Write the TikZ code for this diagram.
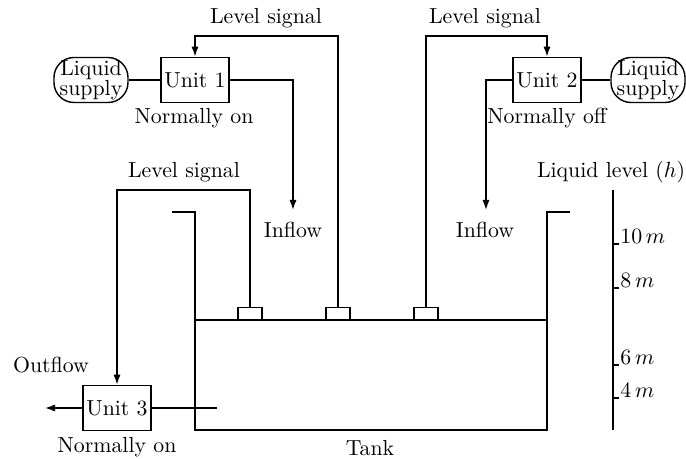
\documentclass[tikz,border=0pt]{standalone}
\usepackage{tikz}
\usetikzlibrary{arrows.meta,positioning,calc}
\usepackage{amsmath}
\tikzset{
  % Control unit box
  ubox/.style={rectangle,draw,line width=0.8pt,
    minimum width=34pt,minimum height=22.5pt,inner sep=1pt},
  % Liquid supply (rounded ends)
  supbox/.style={rectangle,rounded corners=10pt,draw,line width=0.7pt,
    minimum width=37pt,minimum height=22.5pt,inner sep=0.3pt,align=center},
  % Level sensor on the liquid surface
  sensbox/.style={rectangle,draw,line width=0.7pt,
    minimum width=12pt,minimum height=6pt,inner sep=0pt,anchor=south},
  % Lines and arrows
  wire/.style={line width=0.8pt},
  arr/.style={-{Latex[length=5pt,width=3.6pt]},line width=0.8pt},
  lbl/.style={inner sep=1pt},
}
\begin{document}
\begin{tikzpicture}[x=0.5pt,y=-0.5pt,font=\fontsize{10.9}{12}\selectfont]
  \useasboundingbox (0,0) rectangle (686,459);

  % Units and supplies
  \node[ubox] (unitA) at (195,80) {Unit 1};
  \node[ubox] (unitB) at (547,80) {Unit 2};
  \node[ubox] (unitC) at (117,408) {Unit 3};
  \node[supbox] (supA) at (91,80) {Liquid\\[-2pt]supply};
  \node[supbox] (supB) at (648,80) {Liquid\\[-2pt]supply};

  % Tank
  \draw[wire] (172,212) -- (195,212) -- (195,430) -- (547,430)
    -- (547,212) -- (570,212);
  \draw[wire] (195,320) -- (547,320);
  \node[sensbox] (sensA) at (250,320) {};
  \node[sensbox] (sensB) at (338,320) {};
  \node[sensbox] (sensC) at (426,320) {};

  % Signal lines
  \coordinate (sigA) at (0,36);
  \coordinate (sigC) at (0,190);
  \draw[arr] (sensB.north) |- (unitA.north |- sigA) -- (unitA.north);
  \draw[arr] (sensC.north) |- (unitB.north |- sigA) -- (unitB.north);
  \draw[arr] (sensA.north) |- (unitC.north |- sigC) -- (unitC.north);

  % Flows
  \coordinate (inA) at (293,210);
  \coordinate (inB) at (486,210);
  \coordinate (outC) at (45,408);
  \coordinate (drainC) at (217,408);
  \draw[wire] (supA) -- (unitA);
  \draw[wire] (supB) -- (unitB);
  \draw[arr] (unitA.east) -| (inA);
  \draw[arr] (unitB.west) -| (inB);
  \draw[arr] (unitC.west) -- (outC);
  \draw[wire] (unitC.east) -- (drainC);

  % Labels
  \node[lbl] (sigLblA) at (266,18) {Level signal};
  \node[lbl] (sigLblB) at (485,18) {Level signal};
  \node[lbl] (sigLblC) at (184,172) {Level signal};
  \node[lbl] (modeA) at (194,118) {Normally on};
  \node[lbl] (modeB) at (547,118) {Normally off};
  \node[lbl] (modeC) at (117,447) {Normally on};
  \node[lbl] (inLblA) at (293,230) {Inflow};
  \node[lbl] (inLblB) at (485,230) {Inflow};
  \node[lbl] (outLbl) at (51,365) {Outflow};
  \node[lbl] (tankLbl) at (370,448) {Tank};
  \node[lbl] (hLbl) at (611,172) {Liquid level ($h$)};

  % Level scale
  \draw[wire] (613,190) -- (613,430);
  \foreach \yy/\hh in {244/10,288/8,365/6,398/4} {
    \draw[wire] (613,\yy) -- (619,\yy);
    \node[anchor=base west,inner sep=0.5pt] (lvl\hh) at (619,\yy) {$\hh\,m$};
  }
\end{tikzpicture}
\end{document}
